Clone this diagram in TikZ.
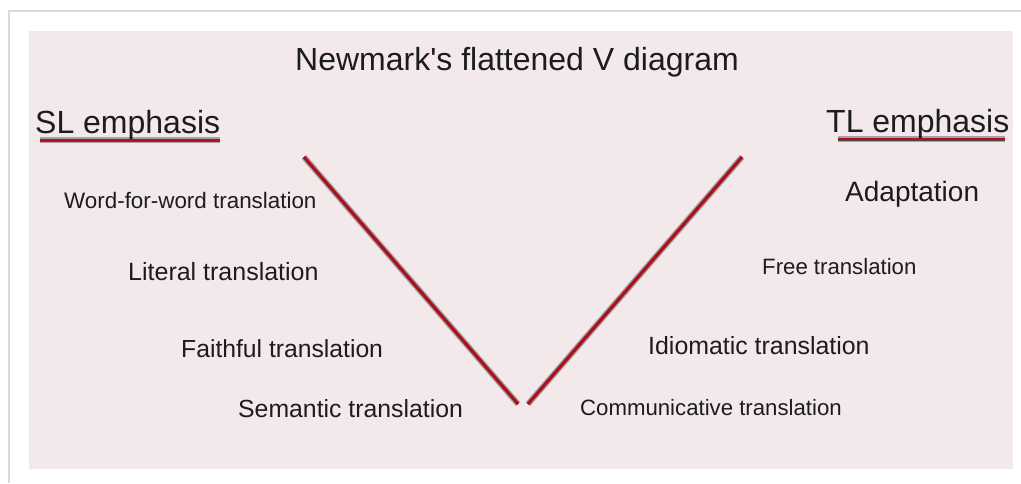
\documentclass[tikz,border=0pt]{standalone}
\usepackage{fontspec}
\setmainfont{Liberation Sans}
\definecolor{panel}{RGB}{243,233,235}
\definecolor{vred}{RGB}{176,16,30}
\definecolor{ink}{RGB}{28,28,30}
\definecolor{shade}{RGB}{150,160,166}
\definecolor{frame}{RGB}{218,218,218}
\begin{document}
\begin{tikzpicture}[x=1pt,y=-1pt,
  txt/.style={anchor=base west, inner sep=0pt, text=ink},
  vline/.style={vred, line width=3pt},
  vshadow/.style={shade, line width=6pt, opacity=0.3},
  vshadowcore/.style={shade, line width=3pt, opacity=0.55}]
  % page and card
  \useasboundingbox (0,0) rectangle (1021,483);
  \fill[white] (0,0) rectangle (1021,483);
  \draw[frame, line width=1.2pt] (9,483) -- (9,11) -- (1021,11);
  \fill[panel] (29,31) rectangle (1013,469);

  % texts
  \node[txt, font=\fontsize{32}{36}\selectfont] (title) at (295,70) {Newmark\textquotesingle s flattened V diagram};
  \node[txt, font=\fontsize{32}{36}\selectfont] (sl) at (35,133) {SL emphasis};
  \node[txt, font=\fontsize{32}{36}\selectfont] (tl) at (826,132) {TL emphasis};

  \node[txt, font=\fontsize{22.4}{26}\selectfont] (wfw) at (64,208) {Word-for-word translation};
  \node[txt, font=\fontsize{25}{29}\selectfont] (lit) at (128,280) {Literal translation};
  \node[txt, font=\fontsize{24.7}{29}\selectfont] (fai) at (181,357) {Faithful translation};
  \node[txt, font=\fontsize{24.8}{29}\selectfont] (sem) at (238,417) {Semantic translation};

  \node[txt, font=\fontsize{28}{32}\selectfont] (ada) at (845,201) {Adaptation};
  \node[txt, font=\fontsize{22.2}{26}\selectfont] (fre) at (762,274) {Free translation};
  \node[txt, font=\fontsize{24.9}{29}\selectfont] (idi) at (648,354) {Idiomatic translation};
  \node[txt, font=\fontsize{22.2}{26}\selectfont] (com) at (580,415) {Communicative translation};

  % underline end points
  \coordinate (slA) at (40,140);
  \coordinate (slB) at (220,140);
  \coordinate (tlA) at (838,139);
  \coordinate (tlB) at (1005,139);

  % V end points
  \coordinate (lTop) at (304,157);
  \coordinate (lBot) at (518,404);
  \coordinate (rBot) at (528,404);
  \coordinate (rTop) at (742,157);

  % soft shadows
  \begin{scope}[shift={(4,4)}]
    \draw[vshadow] (slA) -- (slB);
    \draw[vshadow] (tlA) -- (tlB);
    \draw[vshadow] (lTop) -- (lBot);
    \draw[vshadow] (rBot) -- (rTop);
    \draw[vshadowcore] (slA) -- (slB);
    \draw[vshadowcore] (tlA) -- (tlB);
    \draw[vshadowcore] (lTop) -- (lBot);
    \draw[vshadowcore] (rBot) -- (rTop);
  \end{scope}

  % red strokes
  \draw[vred, line width=2.2pt] (slA) -- (slB);
  \draw[vred, line width=2.2pt] (tlA) -- (tlB);
  \draw[vline] (lTop) -- (lBot);
  \draw[vline] (rBot) -- (rTop);
\end{tikzpicture}
\end{document}
